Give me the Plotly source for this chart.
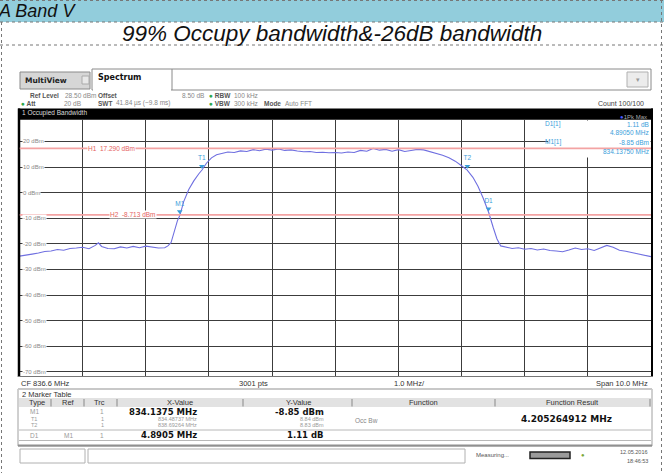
import plotly.graph_objects as go

W, H = 664, 473


def px(x):
    return x / W


def py(y):
    return 1 - y / H


# ---------------- data ----------------
freq_mhz = [831.60, 831.70, 831.80, 831.90, 832.00, 832.10, 832.20, 832.30, 832.40, 832.50,
            832.60, 832.70, 832.80, 832.85, 832.90, 833.00, 833.10, 833.20, 833.30, 833.40,
            833.50, 833.60, 833.70, 833.80, 833.90, 833.95, 834.00, 834.05, 834.10, 834.14,
            834.20, 834.28, 834.36, 834.44, 834.49, 834.56, 834.64, 834.72, 834.80, 834.90,
            835.00, 835.10, 835.20, 835.30, 835.40, 835.50, 835.60, 835.70, 835.80, 835.90,
            836.00, 836.10, 836.20, 836.30, 836.40, 836.50, 836.60, 836.70, 836.80, 836.90,
            837.00, 837.10, 837.20, 837.30, 837.40, 837.50, 837.60, 837.70, 837.80, 837.90,
            838.00, 838.10, 838.20, 838.30, 838.40, 838.50, 838.60, 838.69, 838.78, 838.86,
            838.94, 839.03, 839.10, 839.16, 839.22, 839.30, 839.40, 839.50, 839.60, 839.70,
            839.80, 839.90, 840.00, 840.10, 840.20, 840.30, 840.40, 840.50, 840.60, 840.70,
            840.80, 840.90, 841.00, 841.10, 841.20, 841.30, 841.40, 841.50, 841.60]
level_dbm = [-24.8, -24.3, -24.0, -23.6, -23.0, -22.8, -22.2, -22.5, -21.8, -21.6,
             -21.3, -21.9, -20.6, -19.6, -21.0, -21.8, -21.9, -21.2, -21.6, -21.0,
             -21.5, -20.9, -21.4, -21.6, -21.5, -20.8, -19.5, -15.5, -11.0, -8.85,
             -3.5, 1.2, 4.6, 7.4, 8.84, 11.5, 13.6, 14.8, 15.4, 15.9,
             15.7, 16.3, 16.1, 16.8, 16.4, 17.0, 16.6, 17.1, 16.5, 16.7,
             16.3, 16.0, 16.1, 15.7, 15.8, 15.6, 15.7, 15.5, 15.9, 15.7,
             16.5, 16.2, 17.29, 16.6, 16.9, 16.2, 16.8, 16.1, 16.5, 16.9,
             16.7, 16.0, 15.4, 14.6, 13.6, 12.3, 10.5, 8.83, 6.0, 2.5,
             -2.0, -7.74, -13.5, -18.0, -20.8, -21.2, -21.8, -21.5, -22.1, -21.8,
             -22.4, -22.0, -22.6, -22.8, -23.1, -22.4, -21.6, -22.2, -21.9, -22.6,
             -21.7, -20.6, -21.3, -22.5, -22.9, -23.4, -23.9, -24.5, -25.0]

marker_names = ["M1", "T1", "T2", "D1"]
marker_freq_mhz = [834.1375, 834.48737, 838.69264, 839.028]
marker_level_dbm = [-8.85, 8.84, 8.83, -7.74]

hline_names = ["H1", "H2"]
hline_level_dbm = [17.290, -8.713]
hline_label_freq = [833.05, 833.40]

y_tick_dbm = [20, 10, 0, -10, -20, -30, -40, -50, -60, -70]
ref_level_dbm = 28.5
center_mhz = 836.6
span_mhz = 10.0

table_type = ["M1", "T1", "T2", "D1"]
table_ref = ["", "", "", "M1"]
table_trc = ["1", "1", "1", "1"]
table_x = ["834.1375 MHz", "834.48737 MHz", "838.69264 MHz", "4.8905 MHz"]
table_y = ["-8.85 dBm", "8.84 dBm", "8.83 dBm", "1.11 dB"]
table_bold = [True, False, False, True]
occ_bw_result = "4.205264912 MHz"

# ---------------- colours ----------------
TRACE = "#6F6FE0"
MARK = "#3A9EDA"
RED = "#F3A3A3"
REDTXT = "#E46060"
GRID = "#3C3C3C"
UI = "Liberation Sans"
BOLDUI = "DejaVu Sans"
ARIAL = "Liberation Sans"

fig = go.Figure()

fig.add_trace(go.Scatter(x=freq_mhz, y=level_dbm, mode="lines",
                         line=dict(color=TRACE, width=1.1), hoverinfo="skip",
                         showlegend=False))
fig.add_trace(go.Scatter(x=marker_freq_mhz, y=[v + 1.5 for v in marker_level_dbm],
                         mode="markers+text", text=marker_names, textposition="top center",
                         textfont=dict(family=UI, size=6.5, color=MARK),
                         marker=dict(symbol="triangle-down", size=5, color=MARK),
                         hoverinfo="skip", showlegend=False))

x0 = center_mhz - span_mhz / 2
x1 = center_mhz + span_mhz / 2

fig.update_layout(
    width=W, height=H, margin=dict(l=0, r=0, t=0, b=0),
    paper_bgcolor="white", plot_bgcolor="white", showlegend=False,
    xaxis=dict(domain=[px(19.5), px(651)], range=[x0, x1], dtick=1, tick0=x0,
               showgrid=True, gridcolor=GRID, gridwidth=1, zeroline=False,
               showticklabels=False, ticks="", showline=False, fixedrange=True),
    yaxis=dict(domain=[py(375.7), py(119.7)], range=[ref_level_dbm - 100, ref_level_dbm],
               dtick=10, tick0=0, showgrid=True, gridcolor=GRID, gridwidth=1,
               zeroline=False, showticklabels=False, ticks="", showline=False,
               fixedrange=True),
)

shapes = []
ann = []


def rect(xa, ya, xb, yb, fill=None, line=None, lw=1, layer="above"):
    shapes.append(dict(type="rect", xref="paper", yref="paper", x0=px(xa), x1=px(xb),
                       y0=py(ya), y1=py(yb), fillcolor=fill or "rgba(0,0,0,0)",
                       line=dict(color=line or "rgba(0,0,0,0)", width=lw if line else 0),
                       layer=layer))


def hl(xa, xb, y, color, w=1, dash="solid"):
    shapes.append(dict(type="line", xref="paper", yref="paper", x0=px(xa), x1=px(xb),
                       y0=py(y), y1=py(y), line=dict(color=color, width=w, dash=dash),
                       layer="above"))


def vl(x, ya, yb, color, w=1, dash="solid"):
    shapes.append(dict(type="line", xref="paper", yref="paper", x0=px(x), x1=px(x),
                       y0=py(ya), y1=py(yb), line=dict(color=color, width=w, dash=dash),
                       layer="above"))


def text(x, y, s, size=7, color="#444", anchor="left", family=UI, bold=False,
         italic=False, bg=None):
    ann.append(dict(x=px(x), y=py(y), xref="paper", yref="paper",
                    text=("<b>%s</b>" % s) if bold else s,
                    showarrow=False, xanchor=anchor, yanchor="middle",
                    font=dict(family=family, size=size, color=color,
                              style="italic" if italic else "normal"),
                    bgcolor=bg, borderpad=0))


# ---------- document header ----------
rect(0, 0, 664, 22, fill="#92CDDC", layer="below")
hl(0, 664, 0.5, "#777", 1, "dot")
hl(0, 664, 22, "#777", 1, "dot")
hl(0, 664, 45, "#777", 1, "dot")
vl(1.5, 22, 473, "#777", 1, "dot")
vl(661.5, 0, 473, "#777", 1, "dot")
text(-3, 11, "A Band V", size=18, color="#111", family=ARIAL, italic=True)
text(332, 33, "99% Occupy bandwidth&-26dB bandwidth", size=22.5, color="#111",
     anchor="center", family=ARIAL, italic=True)

# ---------- analyzer tabs ----------
rect(20, 72, 90, 89, fill="#D6D6D6", line="#8A8A8A")
rect(82, 76, 89, 84, fill="#E8E8E8", line="#AAA")
text(24, 80.5, "MultiView", size=7.5, color="#222", family=BOLDUI, bold=True)
rect(92, 69, 172, 90, fill="white", line="#8A8A8A")
hl(93, 171, 90, "white", 2)
text(97, 78, "Spectrum", size=8, color="#111", family=BOLDUI, bold=True)
hl(172, 651, 90, "#8A8A8A", 1)
vl(651, 69, 90, "#8A8A8A", 1)
hl(172, 651, 69, "#8A8A8A", 1)
rect(627, 72, 648, 87, fill="#ECECEC", line="#B0B0B0")
text(637.5, 79.5, "▾", size=7, color="#999", anchor="center")

# info rows
GREEN = "<span style='color:#2DA84A'>●</span> "
text(29, 95, "Ref Level", size=6.5, color="#555", bold=True)
text(64, 95, "28.50 dBm", size=6.5, color="#888")
text(97, 95, "Offset", size=6.5, color="#555", bold=True)
text(205, 95, "8.50 dB", size=6.5, color="#888", anchor="right")
text(208, 95, GREEN + "RBW", size=6.5, color="#555", bold=True)
text(233, 95, "100 kHz", size=6.5, color="#888")
text(20, 103, GREEN + "Att", size=6.5, color="#555", bold=True)
text(82, 103, "20 dB", size=6.5, color="#888", anchor="right")
text(97, 103, "SWT", size=6.5, color="#555", bold=True)
text(115, 103, "41.84 µs (~9.8 ms)", size=6.5, color="#888")
text(208, 103, GREEN + "VBW", size=6.5, color="#555", bold=True)
text(233, 103, "300 kHz", size=6.5, color="#888")
text(263, 103, "Mode", size=6.5, color="#555", bold=True)
text(284, 103, "Auto FFT", size=6.5, color="#888")
text(645, 103, "Count 100/100", size=7, color="#444", anchor="right")

# black title bar
rect(18, 108.5, 653, 119.7, fill="#000000")
text(21, 112.5, "1 Occupied Bandwidth", size=6.5, color="#DDD")
text(648, 116.5, "<span style='color:#4B5BFF'>●</span>1Pk Max", size=6, color="#AAA",
     anchor="right")

# plot frame
vl(19, 108.5, 377, "#000", 2.5)
vl(652, 108.5, 377, "#000", 2)
hl(18, 653, 376.5, "#777", 1)

# marker readout box (covers grid)
rect(548, 120.5, 650.5, 157.5, fill="white")
text(544, 124, "D1[1]", size=6.5, color=MARK)
text(650, 124, "1.11 dB", size=6.5, color=MARK, anchor="right")
text(650, 132, "4.89050 MHz", size=6.5, color=MARK, anchor="right")
text(544, 142, "M1[1]", size=6.5, color=MARK)
text(650, 142, "-8.85 dBm", size=6.5, color=MARK, anchor="right")
text(650, 151, "834.13750 MHz", size=6.5, color=MARK, anchor="right")

# threshold lines H1 / H2
for name, lvl, lf in zip(hline_names, hline_level_dbm, hline_label_freq):
    shapes.append(dict(type="line", xref="x", yref="y", x0=x0, x1=x1, y0=lvl, y1=lvl,
                       line=dict(color=RED, width=1.8), layer="above"))
    ann.append(dict(x=lf, y=lvl, xref="x", yref="y", text="%s  %.3f dBm" % (name, lvl),
                    showarrow=False, xanchor="center", yanchor="middle",
                    font=dict(family=UI, size=6.5, color=REDTXT), bgcolor="white",
                    borderpad=0))

# y tick labels inside the grid
for v in y_tick_dbm:
    ann.append(dict(x=px(22), y=v, xref="paper", yref="y", text="%d dBm" % v,
                    showarrow=False, xanchor="left", yanchor="middle",
                    font=dict(family=UI, size=6, color="#888"), bgcolor="white",
                    borderpad=0))

# ---------- footer of diagram ----------
text(20, 383, "CF %.1f MHz" % center_mhz, size=7.5, color="#333")
text(238, 383, "3001 pts", size=7.5, color="#333")
text(393, 383, "%.1f MHz/" % (span_mhz / 10), size=7.5, color="#333")
text(649, 383, "Span %.1f MHz" % span_mhz, size=7.5, color="#333", anchor="right")

# ---------- marker table ----------
rect(18, 389, 652, 446, fill="white", line="#A0A0A0")
hl(18, 652, 389, "#C8C8C8", 2)
text(21, 394.5, "2 Marker Table", size=7.5, color="#333")
rect(19, 398, 651, 407, fill="#E2E2E2")
for xx in [51, 84, 117, 243, 352, 495, 650]:
    vl(xx, 399, 406.5, "#888", 1)
for xx, s in [(37, "Type"), (68, "Ref"), (99, "Trc"), (180, "X-Value"), (298, "Y-Value"),
              (423, "Function"), (572, "Function Result")]:
    text(xx, 402.5, s, size=7.5, color="#333", anchor="center")
row_y = [411.5, 418.5, 425, 435]
hl(19, 651, 430, "#B8B8B8", 1)
hl(19, 651, 440.5, "#B8B8B8", 1)
hl(18, 652, 445.5, "#909090", 2)
for i in range(4):
    b = table_bold[i]
    c_light = "#999"
    fs = 8.5 if b else 5.5
    text(34, row_y[i], table_type[i], size=fs if not b else 6.5, color=c_light,
         anchor="center")
    if table_ref[i]:
        text(68, row_y[i], table_ref[i], size=6.5, color=c_light, anchor="center")
    text(102, row_y[i], table_trc[i], size=fs if not b else 6.5, color=c_light,
         anchor="center")
    text(198, row_y[i], table_x[i], size=fs, color="#111" if b else c_light,
         anchor="right", family=BOLDUI if b else UI, bold=b)
    text(325, row_y[i], table_y[i], size=fs, color="#111" if b else c_light,
         anchor="right", family=BOLDUI if b else UI, bold=b)
text(354, 420, "Occ Bw", size=6.5, color="#888")
text(520, 418.5, occ_bw_result, size=9, color="#111", family=BOLDUI, bold=True)

# ---------- status bar ----------
rect(20, 449, 85, 463, fill="white", line="#B0B0B0")
rect(88, 449, 465, 463, fill="white", line="#B0B0B0")
text(475, 455, "Measuring...", size=6, color="#555")
rect(530, 452, 570, 458.5, fill="#9A9A9A", line="#222", lw=1.5)
text(583, 455, "●", size=6, color="#7BA83A", anchor="center")
text(649, 451.5, "12.05.2016", size=5.5, color="#555", anchor="right")
text(649, 460.5, "18:46:53", size=5.5, color="#555", anchor="right")

fig.update_layout(shapes=shapes, annotations=ann)
fig.write_html("out.html", config={"displayModeBar": False, "staticPlot": True},
               post_script="document.body.style.margin='0px';"
                           "document.body.style.overflow='hidden';")
